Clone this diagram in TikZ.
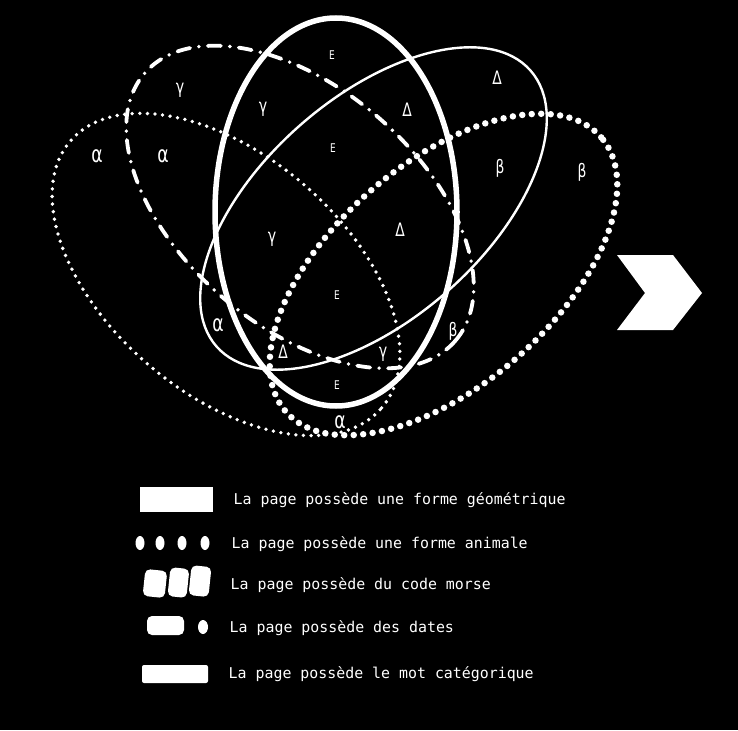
\documentclass[tikz,border=0pt]{standalone}
\usepackage{fontspec}
\newfontfamily\greekfont{DejaVu Sans}
\newfontfamily\legendfont{DejaVu Sans Mono}
\begin{document}
\begin{tikzpicture}[x=1pt,y=-1pt,
  epsline/.style={white, line width=5.5pt},
  deltaline/.style={white, line width=2.4pt},
  gammaline/.style={white, line width=3.8pt, line cap=round, dash pattern=on 13pt off 9pt on 0pt off 9pt},
  alphaline/.style={white, line width=3.8pt, line cap=round, dash pattern=on 0pt off 7.6pt},
  betaline/.style={white, line width=6.5pt, line cap=round, dash pattern=on 0pt off 9.5pt},
  lab/.style={text=white, inner sep=0pt, xscale=0.75},
  labA/.style={lab, font=\greekfont\fontsize{23}{23}\selectfont},
  labB/.style={lab, font=\greekfont\fontsize{18.5}{18.5}\selectfont},
  labG/.style={lab, font=\greekfont\fontsize{19}{19}\selectfont},
  labD/.style={lab, font=\greekfont\fontsize{18.5}{18.5}\selectfont},
  labE/.style={lab, font=\greekfont\fontsize{12}{12}\selectfont},
  legtext/.style={text=white, inner sep=0pt, anchor=base west, font=\legendfont\fontsize{14.9}{14.9}\selectfont},
  legsym/.style={fill=white}
]
\useasboundingbox (0,0) rectangle (738,730);
\fill[black] (0,0) rectangle (738,730);

% ellipses
\draw[alphaline, rotate around={-40.6:(226,274.5)}] (226,274.5) ellipse [x radius=205pt, y radius=119pt];
\draw[betaline, rotate around={41:(443.5,274.5)}] (443.5,274.5) ellipse [x radius=209pt, y radius=111pt];
\draw[gammaline, rotate around={-40.7:(300,207)}] (300,207) ellipse [x radius=205pt, y radius=119pt];
\draw[deltaline, rotate around={41.3:(373.5,208.5)}] (373.5,208.5) ellipse [x radius=209pt, y radius=111pt];
\draw[epsline] (336,212) ellipse [x radius=121pt, y radius=194pt];

% region labels
\node[labA] (a1) at (97,156) {α};
\node[labA] (a2) at (163,156) {α};
\node[labA] (a3) at (218,325) {α};
\node[labA] (a4) at (340,422) {α};
\node[labB] (b1) at (500,168) {β};
\node[labB] (b2) at (582,172) {β};
\node[labB] (b3) at (453,331) {β};
\node[labG] (g1) at (180,90) {γ};
\node[labG] (g2) at (263,109) {γ};
\node[labG] (g3) at (272,239) {γ};
\node[labG] (g4) at (383,354) {γ};
\node[labD] (d1) at (497,78) {Δ};
\node[labD] (d2) at (407,110) {Δ};
\node[labD] (d3) at (400,230) {Δ};
\node[labD] (d4) at (283,352) {Δ};
\node[labE] (e1) at (332,55) {Ε};
\node[labE] (e2) at (333,148) {Ε};
\node[labE] (e3) at (337,295) {Ε};
\node[labE] (e4) at (337,385) {Ε};

% chevron
\fill[white] (617,255) -- (673,255) -- (702,293) -- (673,330) -- (617,330) -- (645,293) -- cycle;

% legend symbols
\fill[legsym] (140,487) rectangle (213,512);
\foreach \xx in {140,160,182,205} \fill[legsym] (\xx,543) ellipse [x radius=4.5pt, y radius=7pt];
\fill[legsym, rounded corners=5pt, rotate around={-6:(155,583)}] (144,570) rectangle (166,597);
\fill[legsym, rounded corners=5pt, rotate around={-6:(178,582)}] (169,568) rectangle (188,597);
\fill[legsym, rounded corners=5pt, rotate around={-6:(199,581)}] (190,566) rectangle (210,596);
\fill[legsym, rounded corners=5pt] (147,616) rectangle (184,635);
\fill[legsym] (203,627) ellipse [x radius=5pt, y radius=7pt];
\fill[legsym, rounded corners=2pt] (142,665) rectangle (208,683);

% legend texts
\node[legtext] (t1) at (233.5,504) {La page possède une forme géométrique};
\node[legtext] (t2) at (231.5,548) {La page possède une forme animale};
\node[legtext] (t3) at (230.5,589) {La page possède du code morse};
\node[legtext] (t4) at (229.5,632) {La page possède des dates};
\node[legtext] (t5) at (228.5,678) {La page possède le mot catégorique};
\end{tikzpicture}
\end{document}
